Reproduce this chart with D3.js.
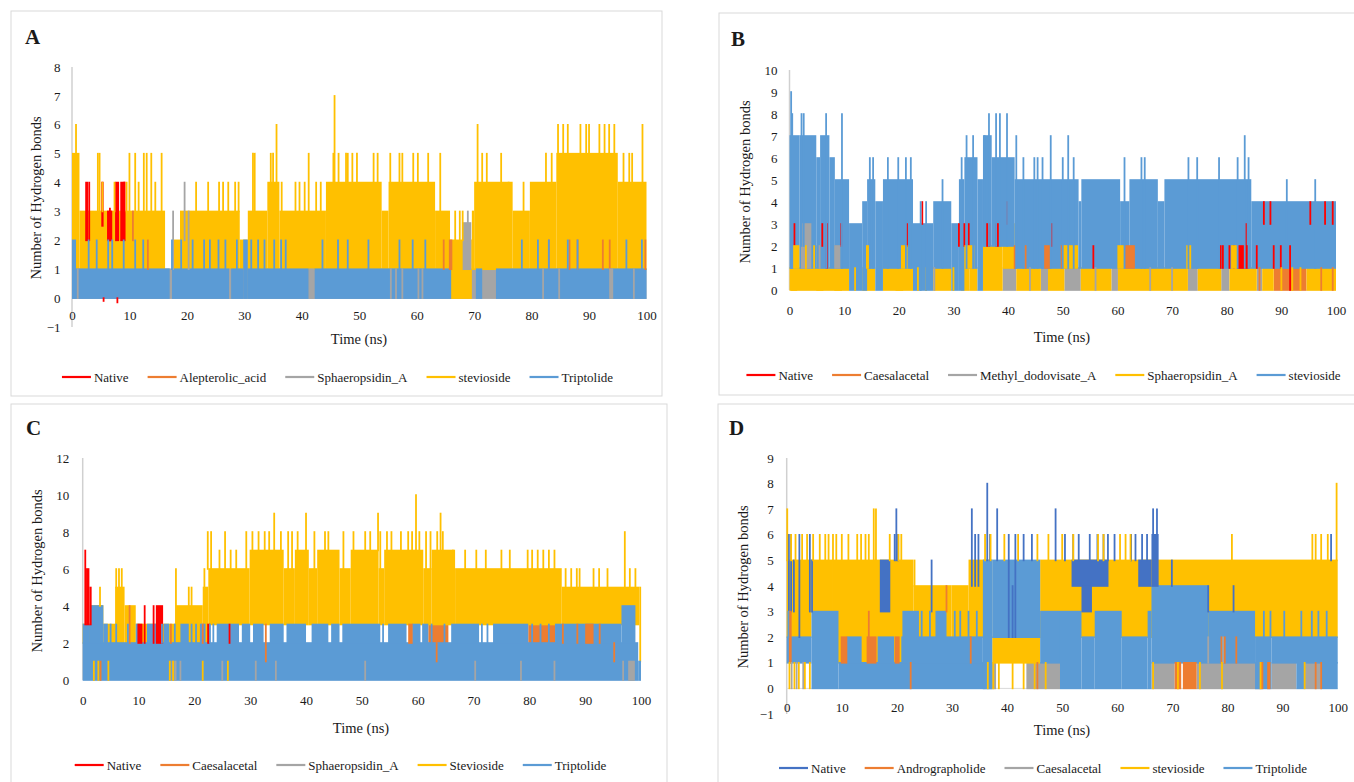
<!DOCTYPE html>
<html>
<head>
<meta charset="utf-8">
<script src="https://cdn.jsdelivr.net/npm/d3@7"></script>
<style>
    body { margin: 0; background: #fff; }
    svg text { font-family: "Liberation Serif", "Times New Roman", serif; fill: #1a1a1a; }
</style>
</head>
<body>
<svg id="chart" width="1354" height="782"></svg>
<script>

    // each series: "band" = dense oscillation blocks [t0, t1, lo, hi],
    // "top" = spikes [t, lo, hi] or patches [t0, t1, lo, hi] that show through later series

    const timeTicks = [0, 10, 20, 30, 40, 50, 60, 70, 80, 90, 100]

    // ---------- A ----------
    const aNames = ['Native', 'Alepterolic_acid', 'Sphaeropsidin_A', 'stevioside', 'Triptolide']
    const aTicks = [-1, 0, 1, 2, 3, 4, 5, 6, 7, 8]
    const aNativeBand = []
    const aNativeTop = [[2.3, 2.8, 2, 4], [5.1, 5.5, 2.5, 4], [6.1, 7.0, 2, 3], [7.5, 8.2, 2, 4], [8.4, 9.3, 2, 4], [3.0, 2, 4], [6.6, 2, 3.1], [9.1, 2, 4], [5.5, -0.1, 0], [7.9, -0.15, 0]]
    const aAlepBand = []
    const aAlepTop = [[65.6, 66.2, 1, 2], [10.6, 2, 3], [13.2, 1, 2], [64.7, 1, 2], [83, 1, 2], [86.6, 1, 2], [88, 1, 2], [92.4, 1, 2], [93.6, 1, 2], [99.8, 1, 2]]
    const aSphBand = [[0, 100, 0, 1]]
    const aSphTop = [[68, 69.5, 1, 2.6], [17.6, 1, 3], [19.6, 2, 4], [20.3, 1, 3], [68.9, 2, 3], [1.0, 0, 1], [41.2, 42.2, 0, 1], [55.5, 0, 1], [56.4, 0, 1], [57.5, 0, 1], [60.3, 0, 1], [61, 0, 1], [93.5, 94.2, 0, 1], [97.8, 0, 1], [27.5, 0, 1], [82, 0, 1], [84.8, 0, 1]]
    const aStevBand = [[0, 1.3, 1, 5], [1.3, 16.2, 1, 3], [17.5, 18.8, 1, 2], [18.8, 29.2, 1, 3], [29.2, 30.6, 1, 2], [30.6, 34, 1, 3], [34, 36.1, 1, 4], [36.1, 44.2, 1, 3], [44.2, 53.9, 1, 4], [53.9, 55.1, 1, 3], [55.1, 63.2, 1, 4], [63.2, 65.8, 1, 3], [65.8, 69.6, 0, 2], [69.6, 70, 1, 3], [70, 76.7, 1, 4], [76.7, 79.7, 1, 3], [79.7, 84.3, 1, 4], [84.3, 95, 1, 5], [95, 100, 1, 4]]
    const aStevTop = [[0.7, 4, 6], [4.5, 3, 5], [4.8, 3, 5], [5.3, 3, 4], [7.4, 3, 4], [9.5, 3, 4], [10, 3, 5], [11, 3, 5], [11.6, 3, 4], [12.5, 3, 5], [13, 3, 5], [13.8, 3, 5], [14.5, 3, 4], [15.6, 3, 5], [21.6, 3, 4], [23.7, 3, 4], [25.6, 3, 4], [26.3, 3, 4], [27.2, 3, 4], [28.4, 3, 4], [29, 3, 4], [31.5, 3, 5], [31.8, 3, 5], [34.6, 4, 5], [35, 4, 5], [35.6, 4, 6], [36.5, 3, 4], [38.9, 3, 4], [39.6, 3, 4], [40.5, 3, 4], [41.2, 3, 5], [42.5, 3, 4], [43.3, 3, 4], [45.5, 4, 5], [45.7, 4, 7], [46.4, 4, 5], [47.7, 4, 5], [48, 4, 5], [48.8, 4, 5], [49.6, 4, 5], [52.5, 4, 5], [53.2, 4, 5], [55.4, 4, 5], [57, 4, 5], [57.5, 4, 5], [59.4, 4, 5], [60.2, 4, 5], [62, 4, 5], [64.1, 3, 5], [66.7, 2, 3], [67.5, 2, 3], [68, 2, 3], [70.6, 4, 6], [71.4, 4, 5], [72.2, 4, 5], [74.7, 4, 5], [76, 3, 4], [78.6, 3, 4], [82.5, 4, 5], [83.5, 4, 5], [84.6, 5, 6], [85.5, 5, 6], [86.3, 5, 6], [88.5, 5, 6], [89.5, 5, 6], [90, 5, 6], [91.8, 5, 6], [92.7, 5, 6], [93.5, 5, 6], [94.4, 5, 6], [96, 4, 5], [97, 4, 5], [97.5, 4, 5], [99.3, 4, 6]]
    const aTripBand = [[0, 0.7, 0, 2], [0.7, 17, 0, 1], [17.4, 27.4, 0, 1], [27.7, 29.8, 0, 1], [29.8, 30.6, 0, 2], [30.6, 41.2, 0, 1], [42.2, 66, 0, 1], [70.3, 71.4, 0, 1], [73.8, 100, 0, 1]]
    const aTripTop = [[2.9, 1, 2], [4.3, 1, 2], [6.3, 1, 2], [7, 1, 2], [9, 1, 2], [11, 1, 2], [12.4, 1, 2], [17.4, 1, 2], [19, 1, 2], [21, 1, 2], [23, 1, 2], [24, 1, 2], [25.5, 1, 2], [26.7, 1, 2], [28.7, 1, 2], [31.2, 1, 2], [32.4, 1, 2], [33.5, 1, 2], [35.2, 1, 2], [36.4, 1, 2], [37.2, 1, 2], [43.6, 1, 2], [46.3, 1, 2], [48, 1, 2], [51.6, 1, 2], [57, 1, 2], [59.3, 1, 2], [61.5, 1, 2], [78.3, 1, 2], [81.1, 1, 2], [83, 1, 2], [86.3, 1, 2], [88, 1, 2], [96.5, 1, 2], [99.2, 1, 2]]

    // ---------- B ----------
    const bNames = ['Native', 'Caesalacetal', 'Methyl_dodovisate_A', 'Sphaeropsidin_A', 'stevioside']
    const bTicks = [0, 1, 2, 3, 4, 5, 6, 7, 8, 9, 10]
    const bNativeBand = []
    const bNativeTop = [[81.9, 84.1, 1, 2], [36, 36.7, 2, 3], [37.7, 38.3, 2, 3], [0.9, 2, 3], [6, 2, 3], [6.8, 1, 3], [9.5, 2, 3], [21.5, 2, 3], [24.3, 3, 4], [31, 2, 3], [32, 2, 3], [32.8, 2, 3], [39.8, 3, 4], [47.9, 2, 3], [55.6, 1, 2], [78.9, 1, 2], [79.3, 1, 2], [80.5, 1, 2], [81.3, 1, 2], [83.5, 2, 3], [85.5, 1, 2], [86.8, 3, 4], [88, 3, 4], [88.6, 1, 2], [89.9, 1, 2], [91.6, 0, 2], [95.3, 3, 4], [98, 3, 4], [99.4, 3, 4]]
    const bCaesBand = [[88.6, 94.6, 0, 1]]
    const bCaesTop = [[46.6, 47.8, 1, 2], [61.4, 63.2, 1, 2], [41.2, 1, 2], [43.2, 1, 2], [49.8, 1, 2], [86, 0, 1], [97.3, 0, 1], [99.4, 0, 1]]
    const bMethBand = [[39, 41.5, 0, 1], [46, 47.3, 0, 1], [50.3, 53.3, 0, 1], [58.9, 60.1, 0, 1], [72.9, 74.7, 0, 1], [79, 80.5, 0, 1], [85.5, 86.5, 0, 1]]
    const bMethTop = [[2.1, 4, 1, 3], [8.2, 9.3, 1, 2], [5.5, 1, 2], [26.5, 0, 1], [44, 0, 1], [56, 0, 1], [66, 0, 1], [70, 0, 1]]
    const bSphBand = [[0, 10.9, 0, 1], [0.3, 1.4, 0, 2], [4.9, 6.2, 0, 2], [8.2, 9.6, 0, 2], [13.3, 15.7, 0, 1], [17.1, 22.6, 0, 1], [19.4, 20.8, 0, 2], [26.3, 29.6, 0, 1], [31.4, 32.9, 0, 2], [32.9, 34.4, 0, 1], [35.4, 39, 0, 2], [39, 41.2, 1, 3], [41.5, 46, 0, 1], [47.3, 50.3, 0, 1], [53.3, 58.9, 0, 1], [60.1, 72.9, 0, 1], [74.7, 79, 0, 1], [80.5, 85.5, 0, 1], [86.5, 88.6, 0, 1], [94.6, 100, 0, 1]]
    const bSphTop = [[0.6, 1.8, 1, 2], [14, 14.6, 1, 2], [20.4, 21.6, 1, 2], [32, 33.8, 1, 2], [49.9, 52.8, 1, 2], [60, 61.3, 1, 2], [72.6, 73.5, 1, 2], [80.8, 81.9, 1, 2], [3, 1, 2], [4.5, 1, 2], [12, 0, 1], [23.5, 0, 1], [25, 0, 1], [30, 0, 1], [90, 0, 1], [92, 0, 1], [93.5, 0, 1]]
    const bStevBand = [[0, 1.8, 1, 7], [1.8, 4.9, 1, 7], [4.9, 5.6, 1, 6], [5.6, 7.3, 1, 7], [7.3, 8.3, 1, 6], [8.3, 10.9, 1, 5], [10.9, 13.3, 0, 3], [13.3, 14.2, 0, 4], [14.2, 15.7, 1, 5], [15.7, 17.1, 0, 4], [17.1, 22.6, 1, 5], [22.6, 26.3, 0, 3], [26.3, 29.6, 1, 4], [29.6, 31, 0, 3], [31, 32, 0, 5], [32, 34.4, 1, 6], [34.4, 35.4, 0, 5], [35.4, 37, 2, 7], [37, 41.2, 2, 6], [41.2, 52.9, 1, 5], [52.9, 53.4, 1, 4], [53.4, 60.5, 1, 5], [60.5, 62.2, 1, 4], [62.2, 67.4, 1, 5], [67.4, 68.6, 1, 4], [68.6, 84.5, 1, 5], [84.5, 100, 1, 4]]
    const bStevTop = [[0.3, 1, 9], [0.5, 1, 8], [2.2, 2, 8], [2.6, 2, 8], [6.7, 1, 8], [9.6, 1, 8], [14.7, 1, 6], [15.3, 1, 6], [18, 1, 6], [19.9, 1, 6], [21.3, 1, 6], [22.2, 1, 6], [24, 0, 4], [25, 0, 4], [28, 1, 5], [31.5, 1, 6], [32.4, 1, 7], [33.6, 1, 7], [35.7, 2, 7], [36.5, 2, 8], [37.8, 2, 8], [38.5, 2, 8], [39.8, 2, 8], [41.5, 1, 7], [42.8, 1, 6], [44.8, 1, 6], [45.4, 1, 6], [46.3, 1, 6], [47.8, 1, 7], [50, 1, 6], [51, 1, 7], [52, 1, 6], [61.3, 1, 6], [64.4, 1, 6], [65, 1, 6], [73, 1, 6], [74.6, 1, 6], [78.6, 1, 6], [82, 1, 6], [83.3, 1, 7], [84, 1, 6], [91, 1, 5], [96.2, 1, 5]]

    // ---------- C ----------
    const cNames = ['Native', 'Caesalacetal', 'Sphaeropsidin_A', 'Stevioside', 'Triptolide']
    const cTicks = [0, 2, 4, 6, 8, 10, 12]
    const cNativeBand = []
    const cNativeTop = [[0.3, 0.6, 3, 7], [0.6, 1.2, 3, 6], [1.2, 1.6, 3, 5], [9.8, 10.7, 2, 3], [11.1, 2, 4], [12.7, 2, 4], [13.1, 14.4, 2, 4], [22.3, 22.8, 2, 3], [26.3, 2, 3]]
    const cCaesBand = [[61.9, 65.5, 2, 3], [79.8, 84.6, 2, 3]]
    const cCaesTop = [[8.4, 2, 4], [15.8, 2, 3], [21.5, 2, 3], [32.8, 1, 3], [58.3, 59.1, 2, 3], [63.4, 1, 2], [86, 2, 3], [88.6, 2, 3], [90, 91.5, 2, 3], [92.6, 2, 3], [95.2, 1, 2], [3.2, 0, 1]]
    const cSphBand = []
    const cSphTop = [[16.1, 0, 1], [16.4, 16.8, 0, 1], [17.5, 0, 1], [25, 0, 1], [31, 0, 1], [34.6, 0, 1], [50.6, 0, 1], [70.3, 0, 1], [78.5, 0, 1], [84.5, 0, 1], [96.8, 0, 1], [97.7, 98.9, 0, 1]]
    const cStevBand = [[0, 1.3, 2, 3], [1.3, 3.7, 2, 4], [3.7, 5.8, 2, 3], [5.8, 7.5, 2, 5], [7.5, 9.5, 2, 4], [9.5, 16.7, 2, 3], [16.7, 21.5, 2, 4], [21.5, 22.5, 2, 5], [22.5, 29.9, 3, 6], [29.9, 36, 3, 7], [36, 38, 3, 6], [38, 40.5, 3, 7], [40.5, 42, 3, 6], [42, 46, 3, 7], [46, 48, 3, 6], [48, 53, 3, 7], [53, 54, 3, 6], [54, 61, 3, 7], [61, 62.5, 3, 6], [62.5, 66.7, 3, 7], [66.7, 85.8, 3, 6], [85.8, 99.7, 3, 5], [99.7, 100, 1, 5]]
    const cStevTop = [[3.1, 4, 5], [6, 5, 6], [6.5, 5, 6], [7, 5, 6], [16.7, 3, 6], [19, 4, 5], [19.5, 4, 5], [21.8, 5, 6], [22.4, 6, 8], [23, 6, 8], [24.5, 6, 7], [25.5, 6, 8], [26.5, 6, 7], [27.5, 6, 7], [29.3, 6, 8], [30.4, 7, 8], [31.5, 7, 8], [32.6, 7, 8], [33.4, 7, 8], [34.3, 7, 9], [35.5, 7, 8], [36.8, 6, 8], [37.5, 6, 8], [38.5, 7, 8], [40, 7, 9], [41.5, 6, 8], [43.4, 7, 8], [44, 7, 8], [46.7, 6, 8], [48.5, 7, 8], [50.6, 7, 8], [51.5, 7, 8], [52.9, 7, 9], [53.3, 6, 8], [54.5, 7, 8], [55.3, 7, 8], [57, 7, 8], [58.3, 7, 8], [59, 7, 8], [59.7, 7, 10], [60.3, 7, 8], [61.5, 6, 8], [62.3, 6, 8], [63.5, 7, 8], [64.1, 7, 9], [64.5, 7, 8], [66.3, 6, 7], [68.5, 6, 7], [70.5, 6, 7], [72.2, 6, 7], [75, 6, 7], [76.5, 6, 7], [79.7, 6, 7], [80.5, 6, 7], [81.5, 6, 7], [82.5, 6, 7], [83.5, 6, 7], [84.5, 6, 7], [86.5, 5, 6], [87.5, 5, 6], [88.5, 5, 6], [89, 5, 6], [91.5, 5, 6], [92.5, 5, 6], [94, 5, 6], [97.1, 5, 8], [98, 5, 6], [99, 5, 6], [2, 0, 1], [2.8, 0, 1], [4.6, 0, 1], [15.6, 0, 1], [16.2, 0, 1], [21.5, 0, 1], [26, 0, 1]]
    const cTripBand = [[0, 99.5, 0, 2], [99.5, 100, 0, 1], [0, 1.3, 2, 3], [1.3, 3.7, 2, 4], [3.7, 4.5, 2, 3], [9.5, 10.2, 2, 3], [11.5, 13.2, 2, 3], [14.5, 15.5, 2, 3], [17.5, 19, 2, 3], [21, 22, 2, 3], [24, 28, 2, 3], [28.5, 30, 2, 3], [30.5, 32.4, 2, 3], [33.5, 36, 2, 3], [36.5, 40, 2, 3], [41, 44, 2, 3], [44.5, 46, 2, 3], [46.5, 53.3, 2, 3], [54.7, 58, 2, 3], [59, 60.5, 2, 3], [60.8, 61.9, 2, 3], [66, 71, 2, 3], [73.5, 79.8, 2, 3], [84.6, 96.5, 2, 3], [96.5, 99, 2, 4]]
    const cTripTop = [[5, 2, 3], [6, 2, 3], [8.1, 2, 3], [14.2, 2, 3], [16.5, 2, 3], [19.5, 2, 3], [20.3, 2, 3], [22.8, 2, 3], [23.4, 2, 3], [53.8, 2, 3], [62.5, 2, 3], [64.8, 2, 3], [71.5, 2, 3], [72.5, 2, 3], [80.5, 2, 3], [82, 2, 3], [83.5, 2, 3]]

    // ---------- D ----------
    const dNames = ['Native', 'Andrographolide', 'Caesalacetal', 'stevioside', 'Triptolide']
    const dTicks = [-1, 0, 1, 2, 3, 4, 5, 6, 7, 8, 9]
    const dNativeBand = []
    const dNativeTop = [[16.9, 18.8, 3, 5], [51.7, 58.4, 4, 5], [53.5, 55.4, 3, 4], [63.8, 66.2, 4, 5], [66.2, 67.5, 4, 6], [0.4, 2, 6], [0.8, 3, 6], [1.3, 3, 5], [2.3, 2, 6], [4.2, 3, 6], [4.6, 3, 5], [19.9, 5, 7], [19.6, 5, 6], [20.2, 5, 6], [26.3, 3, 5], [33.6, 4, 7], [34.2, 4, 6], [34.8, 4, 6], [36.4, 5, 8], [36.9, 5, 6], [38.2, 5, 7], [40.3, 2, 6], [41, 2, 4], [41.5, 2, 6], [43, 5, 6], [44.5, 5, 6], [48.8, 5, 7], [50.5, 5, 6], [52, 5, 6], [53, 5, 6], [55, 5, 6], [56.4, 5, 6], [57.5, 5, 6], [58.3, 5, 6], [59.5, 5, 6], [62.5, 5, 6], [63.3, 5, 6], [64.5, 5, 6], [65.4, 5, 6], [66.5, 6, 7], [67.2, 5, 7], [69.9, 4, 5], [76.5, 3, 4], [81.1, 3, 4], [98.8, 5, 6]]
    const dAndroBand = []
    const dAndroTop = [[0.4, 0.9, 1, 3], [9.8, 11, 1, 2], [14.5, 16.3, 1, 2], [19.6, 20.5, 1, 2], [70.4, 71.6, 0, 1], [71.9, 74.4, 0, 1], [86, 86.5, 0, 1], [87.2, 87.8, 0, 1], [14.9, 2, 3], [33.4, 1, 2], [29, 3, 4], [96, 0, 1], [97, 0, 1], [78.9, 1, 2], [79.5, 1, 2], [81.6, 1, 2], [45.5, 0, 1], [22.5, 0, 1]]
    const dCaesBand = [[36, 38, 0, 1], [43.5, 49.6, 0, 1], [66.2, 70.4, 0, 1], [74.4, 86, 0, 1], [88, 92.5, 0, 1], [94, 97, 0, 1]]
    const dCaesTop = [[0.9, 0, 1], [1.8, 0, 1], [3, 0, 1], [76.5, 1, 2], [79.2, 1, 2]]
    const dStevBand = [[0, 4.5, 2, 5], [4.5, 8.4, 3, 5], [8.4, 23, 1, 5], [23, 29.9, 2, 4], [29.9, 33, 2, 4], [33, 37.3, 2, 5], [37.3, 46, 1, 2], [46, 100, 2, 5]]
    const dStevTop = [[0.1, 5, 7], [0.8, 5, 6], [1.6, 5, 6], [2.8, 5, 6], [3.7, 5, 6], [4.8, 5, 6], [6, 5, 6], [7, 5, 6], [7.6, 5, 6], [8.4, 5, 6], [9, 5, 6], [10, 5, 6], [11.2, 5, 6], [12.8, 5, 6], [13.5, 5, 6], [14.3, 5, 6], [14.9, 5, 6], [15.8, 5, 7], [16.2, 5, 7], [18.7, 5, 6], [20.3, 5, 6], [20.8, 5, 6], [23.2, 4, 5], [36, 5, 6], [37, 5, 6], [39.5, 5, 6], [42, 5, 6], [45.5, 5, 6], [47.5, 5, 6], [50, 5, 6], [52, 5, 6], [56.5, 5, 6], [57.5, 5, 6], [60.5, 5, 6], [61.5, 5, 6], [62.4, 5, 6], [80.8, 5, 6], [95.4, 5, 6], [96, 5, 6], [97, 5, 6], [98.2, 5, 6], [99.8, 5, 8], [0.5, 0, 1], [1.4, 0, 1], [2.2, 0, 1], [3.3, 0, 1], [4.2, 0, 1], [36.5, 0, 1], [37.5, 0, 1], [38.5, 0, 1], [41, 0, 1], [43, 0, 1], [45, 0, 1], [47, 0, 1], [66.5, 0, 1], [71, 0, 1], [75, 0, 1], [79, 0, 1], [86, 0, 1], [94, 0, 1]]
    const dTripBand = [[0, 4.5, 1, 2], [4.5, 9.4, 0, 3], [9.4, 36, 0, 1], [10.9, 13.6, 1, 2], [16.5, 19.5, 1, 2], [20.8, 35.6, 1, 2], [21, 24, 2, 3], [27, 29, 2, 3], [35.6, 37.3, 0, 5], [37.3, 46, 2, 5], [46, 49.6, 1, 3], [49.6, 53.5, 0, 3], [53.5, 55.9, 0, 2], [55.9, 60.8, 0, 3], [60.8, 65.5, 0, 2], [65.5, 66.2, 0, 3], [66.2, 76.5, 1, 4], [76.5, 85, 1, 3], [85, 88, 0, 2], [88, 100, 1, 2], [92.5, 94, 0, 1], [97, 100, 0, 1]]
    const dTripTop = [[0.3, 2, 3], [24.5, 2, 3], [26, 2, 3], [30.5, 2, 3], [31.5, 2, 3], [33, 2, 3], [34.5, 2, 3], [86.6, 2, 3], [87.8, 2, 3], [90.3, 2, 3], [93.4, 2, 3], [95.3, 2, 3], [96.5, 2, 3], [98, 2, 3]]

    const excelColors = ['#FF0000', '#ED7D31', '#A5A5A5', '#FFC000', '#5B9BD5']
    const dColors = ['#4472C4', '#ED7D31', '#A5A5A5', '#FFC000', '#5B9BD5']

    const svg = d3.select('#chart')

    const panels = [
        {
            letter: 'A', box: [11, 11, 651, 385], letterPos: [25, 44],
            xr: [72, 646.5], yd: [-1, 8], yr: [327, 67], ticks: aTicks, xPad: 12.5, yPad: 11.5,
            xTitle: [359, 339], yTitle: [36, 198], legend: [337.5, 377],
            names: aNames, colors: excelColors,
            series: [[aNativeBand, aNativeTop], [aAlepBand, aAlepTop], [aSphBand, aSphTop], [aStevBand, aStevTop], [aTripBand, aTripTop]]
        },
        {
            letter: 'B', box: [719, 13, 650, 382], letterPos: [731, 46],
            xr: [789.5, 1336], yd: [0, 10], yr: [290, 70], ticks: bTicks, xPad: 16, yPad: 12,
            xTitle: [1062, 337], yTitle: [745, 182], legend: [1043.5, 375],
            names: bNames, colors: excelColors,
            series: [[bNativeBand, bNativeTop], [bCaesBand, bCaesTop], [bMethBand, bMethTop], [bSphBand, bSphTop], [bStevBand, bStevTop]]
        },
        {
            letter: 'C', box: [11, 404, 656, 390], letterPos: [26, 435],
            xr: [82.7, 641], yd: [0, 12], yr: [680, 458], ticks: cTicks, xPad: 16, yPad: 13.5,
            xTitle: [361, 728], yTitle: [37, 571], legend: [340.5, 765],
            names: cNames, colors: excelColors,
            series: [[cNativeBand, cNativeTop], [cCaesBand, cCaesTop], [cSphBand, cSphTop], [cStevBand, cStevTop], [cTripBand, cTripTop]]
        },
        {
            letter: 'D', box: [718, 404, 650, 390], letterPos: [729, 435],
            xr: [786.7, 1337.7], yd: [-1, 9], yr: [714, 458], ticks: dTicks, xPad: 14, yPad: 13,
            xTitle: [1062, 730], yTitle: [743, 587], legend: [1043, 768],
            names: dNames, colors: dColors,
            series: [[dNativeBand, dNativeTop], [dAndroBand, dAndroTop], [dCaesBand, dCaesTop], [dStevBand, dStevTop], [dTripBand, dTripTop]]
        }
    ]

    function drawMarks(layer, items, color, x, y) {
        // patches (4 values) as rects, spikes (3 values) as thin lines
        layer.selectAll(null)
            .data(items.filter(d => d.length === 4))
            .join('rect')
            .attr('x', d => x(d[0]))
            .attr('width', d => Math.max(1.8, x(d[1]) - x(d[0])))
            .attr('y', d => y(d[3]) - 0.8)
            .attr('height', d => y(d[2]) - y(d[3]) + 1.6)
            .attr('fill', color)
        layer.selectAll(null)
            .data(items.filter(d => d.length === 3))
            .join('line')
            .attr('x1', d => x(d[0])).attr('x2', d => x(d[0]))
            .attr('y1', d => y(d[2]) - 0.8).attr('y2', d => y(d[1]) + 0.8)
            .attr('stroke', color)
            .attr('stroke-width', 1.8)
    }

    function drawPanel(p) {
        const g = svg.append('g')

        g.append('rect')
            .attr('x', p.box[0]).attr('y', p.box[1])
            .attr('width', p.box[2]).attr('height', p.box[3])
            .attr('fill', '#fff').attr('stroke', '#d9d9d9')

        g.append('text')
            .attr('x', p.letterPos[0]).attr('y', p.letterPos[1])
            .attr('font-size', 21).attr('font-weight', 'bold')
            .text(p.letter)

        const x = d3.scaleLinear().domain([0, 100]).range(p.xr)
        const y = d3.scaleLinear().domain(p.yd).range(p.yr)

        // axis lines (light grey like excel)
        g.append('line')
            .attr('x1', x(0)).attr('x2', x(0))
            .attr('y1', y(p.yd[1])).attr('y2', y(p.yd[0]))
            .attr('stroke', '#d0d0d0').attr('stroke-width', 1.5)
        g.append('line')
            .attr('x1', x(0)).attr('x2', x(100))
            .attr('y1', y(0)).attr('y2', y(0))
            .attr('stroke', '#d9d9d9').attr('stroke-width', 1)

        const plot = g.append('g')
        p.series.forEach((s, i) => drawMarks(plot.append('g'), s[0], p.colors[i], x, y))
        p.series.forEach((s, i) => drawMarks(plot.append('g'), s[1], p.colors[i], x, y))

        g.append('g')
            .attr('transform', `translate(0,${y(0)})`)
            .call(d3.axisBottom(x).tickValues(timeTicks).tickSize(0).tickPadding(p.xPad))
            .call(a => a.select('.domain').remove())
            .attr('font-size', 13)

        g.append('g')
            .attr('transform', `translate(${x(0)},0)`)
            .call(d3.axisLeft(y).tickValues(p.ticks).tickSize(0).tickPadding(p.yPad).tickFormat(d3.format('d')))
            .call(a => a.select('.domain').remove())
            .attr('font-size', 13)

        g.append('text')
            .attr('x', p.xTitle[0]).attr('y', p.xTitle[1])
            .attr('dy', '0.35em').attr('text-anchor', 'middle')
            .attr('font-size', 14.5)
            .text('Time (ns)')

        g.append('text')
            .attr('transform', `translate(${p.yTitle[0]},${p.yTitle[1]}) rotate(-90)`)
            .attr('dy', '0.35em').attr('text-anchor', 'middle')
            .attr('font-size', 14.5)
            .text('Number of Hydrogen bonds')

        // legend, centred under the chart box
        const leg = g.append('g')
        let cx = 0
        p.names.forEach((n, i) => {
            const it = leg.append('g').attr('transform', `translate(${cx},0)`)
            it.append('line')
                .attr('x1', 0).attr('x2', 29)
                .attr('stroke', p.colors[i]).attr('stroke-width', 2.2)
            const t = it.append('text')
                .attr('x', 32).attr('dy', '0.35em')
                .attr('font-size', 13)
                .text(n)
            cx += 32 + t.node().getComputedTextLength() + 19
        })
        cx -= 19
        leg.attr('transform', `translate(${p.legend[0] - cx / 2},${p.legend[1]})`)
    }

    panels.forEach(drawPanel)

</script>
</body>
</html>
